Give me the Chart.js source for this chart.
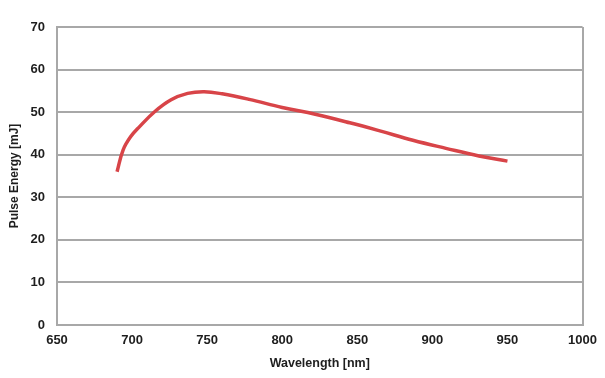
<!DOCTYPE html>
<html>
<head>
<meta charset="utf-8">
<script src="https://cdn.jsdelivr.net/npm/chart.js@4/dist/chart.umd.min.js"></script>
<style>
html,body{margin:0;padding:0;background:#fff;}
#wrap{width:605px;height:378px;position:relative;}
</style>
</head>
<body>
<div id="wrap"><canvas id="c" width="605" height="378"></canvas></div>
<script>
const wavelengths = [690, 694, 699, 705, 715, 726, 737, 748, 760, 778, 800, 822, 845, 865, 887, 909, 931, 950];
const pulseEnergy = [36.0, 41.1, 44.2, 46.6, 50.1, 52.9, 54.4, 54.8, 54.3, 53.0, 51.1, 49.5, 47.5, 45.6, 43.4, 41.5, 39.7, 38.5];
const xTicks = [650, 700, 750, 800, 850, 900, 950, 1000];
const yTicks = [0, 10, 20, 30, 40, 50, 60, 70];

const gridGray = 'rgb(168,168,168)';
const textColor = '#1e1e1e';
const fontFamily = '"Liberation Sans", Arial, sans-serif';

new Chart(document.getElementById('c'), {
  type: 'line',
  data: {
    datasets: [{
      data: wavelengths.map((w, i) => ({x: w, y: pulseEnergy[i]})),
      borderColor: 'rgb(216,68,72)',
      borderWidth: 3.5,
      pointRadius: 0,
      tension: 0.4,
      fill: false
    }]
  },
  options: {
    responsive: false,
    animation: false,
    devicePixelRatio: 1,
    layout: {padding: {left: 7, right: 22, top: 27, bottom: 7}},
    plugins: {legend: {display: false}, tooltip: {enabled: false}},
    scales: {
      x: {
        type: 'linear',
        min: 650, max: 1000,
        afterBuildTicks: s => { s.ticks = xTicks.map(v => ({value: v})); },
        afterFit: s => { s.height = 46; },
        grid: {
          drawTicks: false,
          lineWidth: 2,
          color: ctx => (ctx.tick && ctx.tick.value === 1000) ? gridGray : 'rgba(0,0,0,0)'
        },
        border: {display: true, color: gridGray, width: 2},
        ticks: {color: textColor, padding: 8, maxRotation: 0, callback: v => String(v), font: {family: fontFamily, size: 13, weight: 'bold'}},
        title: {display: true, text: 'Wavelength [nm]', color: textColor, padding: 0, font: {family: fontFamily, size: 12.5, weight: 'bold'}}
      },
      y: {
        type: 'linear',
        min: 0, max: 70,
        afterBuildTicks: s => { s.ticks = yTicks.map(v => ({value: v})); },
        afterFit: s => { s.width = 50; },
        grid: {drawTicks: false, lineWidth: 2, color: gridGray},
        border: {display: true, color: gridGray, width: 2},
        ticks: {color: textColor, padding: 12, callback: v => String(v), font: {family: fontFamily, size: 13, weight: 'bold'}},
        title: {display: true, text: 'Pulse Energy [mJ]', color: textColor, padding: 0, font: {family: fontFamily, size: 12, weight: 'bold'}}
      }
    }
  }
});
</script>
</body>
</html>
